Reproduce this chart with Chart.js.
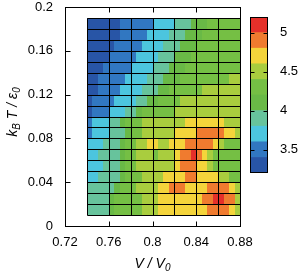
<!DOCTYPE html>
<html>
<head>
<meta charset="utf-8">
<script src="https://cdn.jsdelivr.net/npm/chart.js@4.4.1/dist/chart.umd.min.js"></script>
<style>
  html, body { margin: 0; padding: 0; background: #fff; }
  #wrap { position: relative; width: 300px; height: 276px; }
  #main { position: absolute; left: 0; top: 0; }
  #bar { position: absolute; left: 240px; top: 0; }
</style>
</head>
<body>
<div id="wrap">
  <canvas id="main" width="300" height="276"></canvas>
  <canvas id="bar" width="60" height="276"></canvas>
</div>
<script>
// tick labels
var xTicks = [0.72, 0.76, 0.8, 0.84, 0.88];
var yTicks = [0, 0.04, 0.08, 0.12, 0.16, 0.2];
var cbTicks = [3.5, 4, 4.5, 5];

// cell edges: V / V0 (left to right) and kB T / eps0 (top to bottom)
var vEdges = [0.74, 0.745, 0.75, 0.755, 0.76, 0.765, 0.77, 0.775, 0.78, 0.785,
              0.79, 0.795, 0.80, 0.805, 0.81, 0.815, 0.82, 0.825, 0.83, 0.835,
              0.84, 0.845, 0.85, 0.855, 0.86, 0.865, 0.87, 0.875, 0.88];
var tEdges = [0.19, 0.18, 0.17, 0.16, 0.15, 0.14, 0.13, 0.12, 0.11, 0.10,
              0.09, 0.08, 0.07, 0.06, 0.05, 0.04, 0.03, 0.02, 0.01];

// mesh of the simulated points
var meshV = [0.74, 0.76, 0.78, 0.80, 0.82, 0.84, 0.86, 0.88];
var meshT = [0.01, 0.02, 0.03, 0.04, 0.05, 0.06, 0.07, 0.08, 0.09, 0.10,
             0.11, 0.12, 0.13, 0.14, 0.15, 0.16, 0.17, 0.18, 0.19];

// values, one row per T band, top row first
var zValues = [
  [3.3,3.3,3.3,3.3,3.3,3.3,3.5,3.5,3.5,3.5,3.5,3.5,3.7,3.7,3.7,3.7,3.9,3.9,3.9,4.1,4.1,4.1,4.3,4.3,4.3,4.3,4.3,4.3],
  [3.3,3.3,3.3,3.3,3.3,3.3,3.5,3.5,3.5,3.5,3.5,3.7,3.7,3.7,3.7,3.9,3.9,3.9,4.1,4.1,4.1,4.3,4.3,4.3,4.3,4.3,4.3,4.3],
  [3.3,3.3,3.3,3.3,3.3,3.5,3.5,3.5,3.5,3.5,3.7,3.7,3.7,3.7,3.9,3.9,3.9,4.1,4.1,4.1,4.3,4.3,4.3,4.3,4.3,4.3,4.3,4.3],
  [3.3,3.3,3.3,3.3,3.5,3.5,3.5,3.5,3.5,3.7,3.7,3.7,3.7,3.9,3.9,3.9,4.1,4.1,4.1,4.3,4.3,4.3,4.3,4.3,4.3,4.3,4.3,4.3],
  [3.3,3.3,3.3,3.5,3.5,3.5,3.5,3.5,3.7,3.7,3.7,3.7,3.9,3.9,3.9,4.1,4.1,4.1,4.3,4.3,4.3,4.3,4.3,4.3,4.3,4.3,4.3,4.3],
  [3.3,3.3,3.5,3.5,3.5,3.5,3.5,3.7,3.7,3.7,3.7,3.9,3.9,3.9,4.1,4.1,4.1,4.3,4.3,4.3,4.3,4.3,4.3,4.3,4.3,4.3,4.5,4.5],
  [3.3,3.3,3.5,3.5,3.5,3.5,3.7,3.7,3.7,3.7,3.9,3.9,3.9,4.1,4.1,4.3,4.3,4.3,4.3,4.3,4.3,4.5,4.5,4.5,4.5,4.5,4.5,4.5],
  [3.3,3.5,3.5,3.5,3.5,3.7,3.7,3.7,3.7,3.9,3.9,4.1,4.1,4.3,4.3,4.3,4.3,4.5,4.5,4.5,4.5,4.5,4.5,4.5,4.5,4.5,4.5,4.5],
  [3.3,3.5,3.5,3.5,3.7,3.7,3.7,3.9,3.9,4.1,4.3,4.3,4.3,4.3,4.3,4.3,4.5,4.5,4.5,4.5,4.5,4.5,4.5,4.5,4.5,4.5,4.5,4.5],
  [3.5,3.7,3.7,3.7,3.9,3.9,4.1,4.3,4.3,4.3,4.5,4.5,4.5,4.5,4.5,4.5,4.5,4.5,4.7,4.7,4.7,4.7,4.7,4.7,4.7,4.5,4.5,4.5],
  [3.5,3.7,3.7,3.7,3.9,3.9,3.9,4.1,4.3,4.3,4.5,4.5,4.5,4.5,4.5,4.5,4.7,4.7,4.7,4.7,4.9,4.9,4.9,4.9,4.9,4.7,4.7,4.5],
  [3.7,3.7,3.7,3.9,3.9,3.9,4.1,4.3,4.3,4.5,4.5,4.7,4.7,4.5,4.5,4.7,4.7,4.7,4.9,4.9,4.9,4.9,4.9,4.7,4.5,4.3,4.3,4.3],
  [3.7,3.7,3.9,3.9,3.9,3.9,4.1,4.3,4.3,4.5,4.5,4.5,4.3,4.5,4.5,4.5,4.7,4.9,4.9,5.1,4.9,4.7,4.5,4.3,4.3,4.3,4.3,4.3],
  [3.7,3.7,3.7,3.9,3.9,3.9,4.1,4.3,4.3,4.5,4.5,4.5,4.5,4.5,4.5,4.5,4.7,4.9,4.9,4.9,4.7,4.7,4.5,4.3,4.3,4.3,4.3,4.3],
  [3.7,3.7,3.9,3.9,3.9,3.9,4.1,4.3,4.3,4.3,4.5,4.5,4.5,4.5,4.7,4.7,4.7,4.7,4.9,4.9,4.7,4.7,4.7,4.7,4.5,4.5,4.3,4.3],
  [3.9,3.9,3.9,3.9,3.9,4.1,4.3,4.3,4.3,4.5,4.5,4.5,4.5,4.7,4.7,4.9,4.9,4.9,4.7,4.7,4.7,4.7,4.9,4.9,4.9,4.9,4.7,4.5],
  [3.9,3.9,3.9,3.9,4.1,4.3,4.3,4.3,4.3,4.3,4.5,4.5,4.5,4.7,4.7,4.7,4.7,4.7,4.7,4.7,4.7,4.9,4.9,5.1,5.1,4.9,4.9,4.5],
  [3.9,3.9,3.9,3.9,4.1,4.3,4.3,4.3,4.3,4.3,4.5,4.5,4.5,4.7,4.7,4.7,4.7,4.7,4.7,4.7,4.7,4.7,4.9,4.9,4.9,4.9,4.7,4.5]
];

// colour bands of the palette
var bandEdges = [3.2, 3.4, 3.6, 3.8, 4.0, 4.2, 4.4, 4.6, 4.8, 5.0, 5.2];
var bandColors = ['#2855a6', '#3177c1', '#4cc5de', '#67c39c', '#69b946',
                  '#75bf44', '#a9cd3e', '#f4d43b', '#f07b2f', '#e5302a'];

Chart.defaults.font.family = '"Liberation Sans", Arial, sans-serif';
Chart.defaults.font.size = 13;
Chart.defaults.color = '#000';

function colorFor(z) {
  for (var i = 0; i < bandColors.length; i++) {
    if (z >= bandEdges[i] && z < bandEdges[i + 1]) return bandColors[i];
  }
  return bandColors[bandColors.length - 1];
}

var heatPlugin = {
  id: 'heat',
  beforeDatasetsDraw: function (chart) {
    var ctx = chart.ctx, x = chart.scales.x, y = chart.scales.y;
    ctx.save();
    for (var r = 0; r < zValues.length; r++) {
      var y0 = Math.round(y.getPixelForValue(tEdges[r]));
      var y1 = Math.round(y.getPixelForValue(tEdges[r + 1]));
      for (var c = 0; c < zValues[r].length; c++) {
        var x0 = Math.round(x.getPixelForValue(vEdges[c]));
        var x1 = Math.round(x.getPixelForValue(vEdges[c + 1]));
        ctx.fillStyle = colorFor(zValues[r][c]);
        ctx.fillRect(x0, y0, x1 - x0, y1 - y0);
      }
    }
    ctx.restore();
  },
  afterDraw: function (chart) {
    var ctx = chart.ctx, x = chart.scales.x, y = chart.scales.y, a = chart.chartArea;
    ctx.save();
    ctx.strokeStyle = '#000';
    ctx.lineWidth = 1;
    // mesh
    var vl = Math.round(x.getPixelForValue(meshV[0])) + 0.5;
    var vr = Math.round(x.getPixelForValue(meshV[meshV.length - 1])) + 0.5;
    var tb = Math.round(y.getPixelForValue(meshT[0])) + 0.5;
    var tt = Math.round(y.getPixelForValue(meshT[meshT.length - 1])) + 0.5;
    ctx.beginPath();
    meshV.forEach(function (v) {
      var px = Math.round(x.getPixelForValue(v)) + 0.5;
      ctx.moveTo(px, tt); ctx.lineTo(px, tb);
    });
    meshT.forEach(function (t) {
      var py = Math.round(y.getPixelForValue(t)) + 0.5;
      ctx.moveTo(vl, py); ctx.lineTo(vr, py);
    });
    ctx.stroke();
    // frame and inward ticks
    var L = Math.round(a.left) + 0.5, R = Math.round(a.right) + 0.5;
    var T = Math.round(a.top) + 0.5, B = Math.round(a.bottom) + 0.5;
    ctx.strokeRect(L, T, R - L, B - T);
    ctx.beginPath();
    xTicks.forEach(function (v) {
      var px = Math.round(x.getPixelForValue(v)) + 0.5;
      ctx.moveTo(px, B); ctx.lineTo(px, B - 5);
      ctx.moveTo(px, T); ctx.lineTo(px, T + 5);
    });
    yTicks.forEach(function (v) {
      var py = Math.round(y.getPixelForValue(v)) + 0.5;
      ctx.moveTo(L, py); ctx.lineTo(L + 5, py);
      ctx.moveTo(R, py); ctx.lineTo(R - 5, py);
    });
    ctx.stroke();
    // axis titles
    ctx.fillStyle = '#000';
    ctx.textBaseline = 'alphabetic';
    var big = 'italic 14px "Liberation Sans", Arial, sans-serif';
    var small = 'italic 10px "Liberation Sans", Arial, sans-serif';
    function runs(parts) {
      var w = 0;
      parts.forEach(function (p) { ctx.font = p[1] ? small : big; w += ctx.measureText(p[0]).width; });
      var cx = -w / 2;
      parts.forEach(function (p) {
        ctx.font = p[1] ? small : big;
        ctx.fillText(p[0], cx, p[1] ? 3 : 0);
        cx += ctx.measureText(p[0]).width;
      });
    }
    ctx.save();
    ctx.translate((a.left + a.right) / 2, 268);
    runs([['V / V', false], ['0', true]]);
    ctx.restore();
    ctx.save();
    ctx.translate(17, 112);
    ctx.rotate(-Math.PI / 2);
    runs([['k', false], ['B', true], [' T / \u03b5', false], ['0', true]]);
    ctx.restore();
    ctx.restore();
  }
};

function fmt(v) { return String(+Number(v).toFixed(2)); }

new Chart(document.getElementById('main'), {
  type: 'scatter',
  data: { datasets: [] },
  options: {
    responsive: false,
    animation: false,
    layout: { padding: { left: 0, right: 60, top: 7, bottom: 0 } },
    plugins: { legend: { display: false }, tooltip: { enabled: false } },
    scales: {
      x: {
        type: 'linear', min: 0.72, max: 0.88,
        afterBuildTicks: function (s) { s.ticks = xTicks.map(function (v) { return { value: v }; }); },
        afterFit: function (s) { s.height = 50; s.paddingLeft = 0; s.paddingRight = 0; },
        grid: { display: false, drawTicks: false },
        border: { display: false },
        ticks: { padding: 9, autoSkip: false, maxRotation: 0, callback: fmt }
      },
      y: {
        type: 'linear', min: 0, max: 0.2,
        afterBuildTicks: function (s) { s.ticks = yTicks.map(function (v) { return { value: v }; }); },
        afterFit: function (s) { s.width = 65; s.paddingTop = 0; s.paddingBottom = 0; },
        grid: { display: false, drawTicks: false },
        border: { display: false },
        ticks: { padding: 12, autoSkip: false, callback: fmt }
      }
    }
  },
  plugins: [heatPlugin]
});

// colour box
var cbPlugin = {
  id: 'cbframe',
  afterDraw: function (chart) {
    var ctx = chart.ctx, a = chart.chartArea, y = chart.scales.y;
    ctx.save();
    ctx.strokeStyle = '#000';
    ctx.lineWidth = 1;
    var L = Math.round(a.left) + 0.5, R = Math.round(a.right) - 0.5;
    var T = Math.round(a.top) + 0.5, B = Math.round(a.bottom) - 0.5;
    ctx.strokeRect(L, T, R - L, B - T);
    ctx.beginPath();
    cbTicks.forEach(function (v) {
      var py = Math.round(y.getPixelForValue(v)) + 0.5;
      ctx.moveTo(L, py); ctx.lineTo(L + 4, py);
      ctx.moveTo(R, py); ctx.lineTo(R - 4, py);
    });
    ctx.stroke();
    ctx.restore();
  }
};

new Chart(document.getElementById('bar'), {
  type: 'bar',
  data: {
    labels: [''],
    datasets: bandColors.map(function (col, i) {
      return {
        data: [[bandEdges[i], bandEdges[i + 1]]],
        backgroundColor: col,
        borderWidth: 0,
        grouped: false,
        barPercentage: 1,
        categoryPercentage: 1
      };
    })
  },
  options: {
    responsive: false,
    animation: false,
    layout: { padding: { left: 10, right: 0, top: 17, bottom: 103 } },
    plugins: { legend: { display: false }, tooltip: { enabled: false } },
    scales: {
      x: { display: false },
      y: {
        position: 'right', min: 3.2, max: 5.2,
        afterBuildTicks: function (s) { s.ticks = cbTicks.map(function (v) { return { value: v }; }); },
        afterFit: function (s) { s.width = 32; s.paddingTop = 0; s.paddingBottom = 0; },
        grid: { display: false, drawTicks: false },
        border: { display: false },
        ticks: { padding: 12, callback: function (v) { return String(v); } }
      }
    }
  },
  plugins: [cbPlugin]
});
</script>
</body>
</html>
